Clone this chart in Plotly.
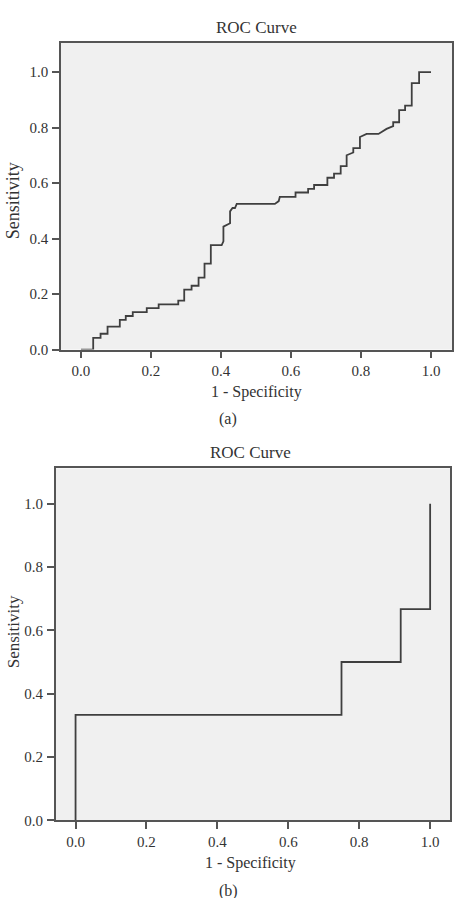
import plotly.graph_objects as go

W, H = 456, 898

# Panel (a) ROC coordinates (1 - specificity, sensitivity)
fpr_a = [0.0, 0.035, 0.035, 0.056, 0.056, 0.076, 0.076, 0.111, 0.111, 0.128, 0.128,
         0.148, 0.148, 0.188, 0.188, 0.222, 0.222, 0.278, 0.278, 0.295, 0.295,
         0.316, 0.316, 0.336, 0.336, 0.353, 0.353, 0.371, 0.371, 0.402, 0.407,
         0.407, 0.426, 0.426, 0.433, 0.440, 0.445, 0.554, 0.565, 0.568, 0.613,
         0.613, 0.649, 0.649, 0.666, 0.666, 0.704, 0.704, 0.723, 0.723, 0.742,
         0.742, 0.759, 0.759, 0.778, 0.778, 0.797, 0.797, 0.816, 0.850, 0.873,
         0.892, 0.892, 0.909, 0.909, 0.926, 0.926, 0.945, 0.945, 0.966, 0.966, 1.0]
tpr_a = [0.0, 0.0, 0.042, 0.042, 0.057, 0.057, 0.083, 0.083, 0.107, 0.107, 0.121,
         0.121, 0.135, 0.135, 0.149, 0.149, 0.163, 0.163, 0.176, 0.176, 0.216,
         0.216, 0.230, 0.230, 0.259, 0.259, 0.310, 0.310, 0.376, 0.376, 0.390,
         0.443, 0.455, 0.498, 0.510, 0.510, 0.525, 0.525, 0.535, 0.550, 0.550,
         0.566, 0.566, 0.579, 0.579, 0.593, 0.593, 0.619, 0.619, 0.634, 0.634,
         0.661, 0.661, 0.700, 0.710, 0.726, 0.726, 0.766, 0.777, 0.777, 0.795,
         0.805, 0.819, 0.819, 0.863, 0.863, 0.879, 0.879, 0.960, 0.960, 1.0, 1.0]

# Panel (b) ROC coordinates
fpr_b = [0.0, 0.0, 0.75, 0.75, 0.917, 0.917, 1.0, 1.0]
tpr_b = [0.0, 0.333, 0.333, 0.5, 0.5, 0.667, 0.667, 1.0]

tick_vals = [0.0, 0.2, 0.4, 0.6, 0.8, 1.0]
tick_text = ["0.0", "0.2", "0.4", "0.6", "0.8", "1.0"]

title_text = "ROC Curve"
x_title = "1 - Specificity"
y_title = "Sensitivity"
captions = ["(a)", "(b)"]

FONT = "Liberation Serif"
TXT = "#333333"
LINE = "#555555"
CURVE = "#3f3f3f"


def px_x(p):
    return p / W


def px_y(p):
    return 1 - p / H


fig = go.Figure()
fig.add_trace(go.Scatter(x=fpr_a, y=tpr_a, mode="lines", xaxis="x", yaxis="y",
                         line=dict(color=CURVE, width=1.8), showlegend=False,
                         hoverinfo="skip"))
fig.add_trace(go.Scatter(x=fpr_b, y=tpr_b, mode="lines", xaxis="x2", yaxis="y2",
                         line=dict(color=CURVE, width=1.8), showlegend=False,
                         hoverinfo="skip"))

axis_common = dict(showgrid=False, zeroline=False, showline=True, mirror=True,
                   linecolor=LINE, linewidth=1.5, ticks="outside", ticklen=7,
                   tickwidth=1.5, tickcolor=LINE, tickvals=tick_vals,
                   ticktext=tick_text,
                   tickfont=dict(family=FONT, size=15, color=TXT))

fig.update_layout(
    width=W, height=H,
    margin=dict(l=0, r=0, t=0, b=0),
    paper_bgcolor="white",
    plot_bgcolor="#f0f0f0",
    xaxis=dict(axis_common, domain=[px_x(61), px_x(452)], range=[-0.057, 1.06],
               anchor="y", ticklabelstandoff=0),
    yaxis=dict(axis_common, domain=[px_y(352.7), px_y(43)], range=[0, 1.106],
               anchor="x", ticklabelstandoff=1),
    xaxis2=dict(axis_common, domain=[px_x(55.7), px_x(450)], range=[-0.056, 1.056],
                anchor="y2", ticklabelstandoff=0),
    yaxis2=dict(axis_common, domain=[px_y(827.7), px_y(472.7)], range=[0, 1.111],
                anchor="x2", ticklabelstandoff=1),
)

ann = []
# titles
ann.append(dict(text=title_text, x=px_x(256.5), y=px_y(28), xref="paper", yref="paper",
                showarrow=False, font=dict(family=FONT, size=17, color=TXT),
                xanchor="center", yanchor="middle"))
ann.append(dict(text=title_text, x=px_x(250), y=px_y(457), xref="paper", yref="paper",
                showarrow=False, font=dict(family=FONT, size=17, color=TXT),
                xanchor="center", yanchor="middle"))
# x titles
ann.append(dict(text=x_title, x=px_x(256), y=px_y(396), xref="paper", yref="paper",
                showarrow=False, font=dict(family=FONT, size=16, color=TXT),
                xanchor="center", yanchor="middle"))
ann.append(dict(text=x_title, x=px_x(250), y=px_y(871), xref="paper", yref="paper",
                showarrow=False, font=dict(family=FONT, size=16, color=TXT),
                xanchor="center", yanchor="middle"))
# y titles
ann.append(dict(text=y_title, x=px_x(13), y=px_y(203), xref="paper", yref="paper",
                showarrow=False, textangle=-90, font=dict(family=FONT, size=18, color=TXT),
                xanchor="center", yanchor="middle"))
ann.append(dict(text=y_title, x=px_x(13), y=px_y(638), xref="paper", yref="paper",
                showarrow=False, textangle=-90, font=dict(family=FONT, size=17, color=TXT),
                xanchor="center", yanchor="middle"))
# captions
ann.append(dict(text=captions[0], x=px_x(228), y=px_y(423), xref="paper", yref="paper",
                showarrow=False, font=dict(family=FONT, size=16, color=TXT),
                xanchor="center", yanchor="middle"))
ann.append(dict(text=captions[1], x=px_x(228), y=px_y(888), xref="paper", yref="paper",
                showarrow=False, font=dict(family=FONT, size=16, color=TXT),
                xanchor="center", yanchor="top"))
fig.update_layout(annotations=ann)

fig.write_html("out.html")
